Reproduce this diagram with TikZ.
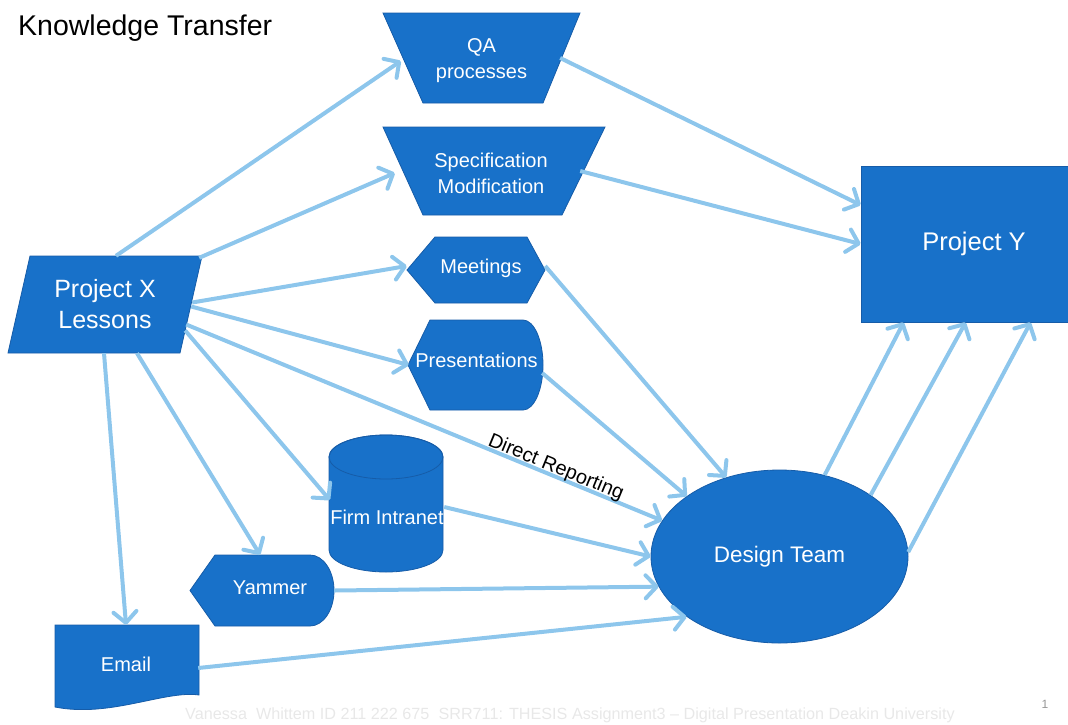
\documentclass[tikz,border=0pt]{standalone}
\usepackage{fontspec}
\setmainfont{Liberation Sans}
\usetikzlibrary{arrows.meta,shapes.geometric}
\definecolor{boxblue}{RGB}{24,113,201}
\definecolor{boxline}{RGB}{22,92,168}
\definecolor{linkblue}{RGB}{141,198,236}
\definecolor{footgray}{RGB}{232,232,232}
\definecolor{pagegray}{RGB}{150,150,150}

\begin{document}
\begin{tikzpicture}[x=1pt,y=-1pt,
  shapefill/.style={fill=boxblue,draw=boxline,line width=0.8pt},
  boxtext/.style={text=white,inner sep=0pt,align=center,font=\fontsize{20}{26}\selectfont},
  link/.style={draw=linkblue,line width=4pt,-{Straight Barb[length=11pt,width=23pt,round]}},
]
\useasboundingbox (0,0) rectangle (1068,724);

% title
\node[anchor=base west,inner sep=0pt,font=\fontsize{28.5}{28.5}\selectfont] (title) at (18,35) {Knowledge Transfer};

% shape outlines
\filldraw[shapefill] (30,256) -- (202,256) -- (180,353) -- (8,353) -- cycle;
\filldraw[shapefill] (383,13) -- (580,13) -- (543,103) -- (423,103) -- cycle;
\filldraw[shapefill] (383,127) -- (605,127) -- (562,215) -- (423,215) -- cycle;
\filldraw[shapefill] (407,270) -- (435,237) -- (527,237) -- (545,270) -- (527,303) -- (435,303) -- cycle;
\filldraw[shapefill] (408,365) -- (430,320) -- (523,320)
  arc[start angle=90,end angle=-90,x radius=20pt,y radius=45pt] -- (430,410) -- cycle;
\filldraw[shapefill] (190,590.5) -- (215,555) -- (310,555)
  arc[start angle=90,end angle=-90,x radius=24pt,y radius=35.5pt] -- (215,626) -- cycle;
\filldraw[shapefill] (329,457) -- (329,550)
  arc[start angle=180,end angle=360,x radius=57pt,y radius=22pt] -- (443,457)
  arc[start angle=0,end angle=180,x radius=57pt,y radius=22pt] -- cycle;
\draw[boxline,line width=0.8pt] (386,457) ellipse [x radius=57pt,y radius=22pt];
\filldraw[shapefill] (55,625) -- (199,625) -- (199,695)
  .. controls (165,690) and (110,718) .. (55,707) -- cycle;

% nodes
\node[boxtext,minimum width=194pt,minimum height=97pt,font=\fontsize{25}{31}\selectfont] (px) at (105,304.5) {Project X\\Lessons};
\node[boxtext,minimum width=197pt,minimum height=90pt] (qa) at (481.5,61) {QA\\processes};
\node[boxtext,minimum width=222pt,minimum height=88pt] (spec) at (491,173) {Specification\\Modification};
\node[boxtext,minimum width=138pt,minimum height=66pt] (meet) at (476,268) {\hspace*{10pt}Meetings};
\node[boxtext,minimum width=135pt,minimum height=90pt] (pres) at (476.5,360) {Presentations};
\node[boxtext,minimum width=114pt,minimum height=110pt] (fi) at (387,517) {Firm Intranet};
\node[boxtext,minimum width=128pt,minimum height=71pt] (yam) at (270,587.5) {Yammer};
\node[boxtext,minimum width=144pt,minimum height=78pt] (em) at (126,664) {Email};
\node[shapefill,ellipse,boxtext,draw=boxline,minimum width=257pt,minimum height=173pt,font=\fontsize{22.5}{26}\selectfont] (dt) at (779.5,556.5) {Design Team};
\node[shapefill,rectangle,boxtext,draw=boxline,minimum width=226pt,minimum height=156pt,font=\fontsize{25.5}{30}\selectfont] (py) at (974,244) {Project Y};

% connectors from Project X
\draw[link] ([xshift=11pt]px.north) -- ([xshift=18pt]qa.west);
\draw[link] ([xshift=-3pt,yshift=-2pt]px.north east) -- ([xshift=15pt]spec.west);
\draw[link] ([xshift=-10pt,yshift=2pt]px.east) -- ([yshift=2pt]meet.west);
\draw[link] ([xshift=-11pt,yshift=-2pt]px.east) -- ([yshift=-5pt]pres.west);
\draw[link] ([xshift=-16pt,yshift=-20pt]px.east) -- node[pos=0.77,sloped,above=-3pt,inner sep=0pt,text=black,font=\fontsize{20}{20}\selectfont] (dr) {Direct Reporting} (dt.163);
\draw[link] ([xshift=-17pt,yshift=-26pt]px.east) -- ([yshift=17pt]fi.west);
\draw[link] ([xshift=32pt]px.south) -- ([xshift=-10pt,yshift=-3pt]yam.north);
\draw[link] ([xshift=-1pt]px.south) -- (em.north);

% connectors to Project Y and Design Team
\draw[link] ([xshift=-20pt,yshift=3pt]qa.east) -- ([yshift=39pt]py.west);
\draw[link] ([xshift=-22pt,yshift=2pt]spec.east) -- (py.west);
\draw[link] ([yshift=2pt]meet.east) -- (dt.124);
\draw[link] ([xshift=-2pt,yshift=-13pt]pres.east) -- (dt.147);
\draw[link] ([yshift=10pt]fi.east) -- (dt.west);
\draw[link] ([yshift=-3pt]yam.east) -- (dt.194);
\draw[link] ([yshift=-4pt]em.east) -- (dt.213);
\draw[link] (dt.61) -- ([xshift=43pt]py.south west);
\draw[link] (dt.34) -- ([xshift=105pt]py.south west);
\draw[link] (dt.2) -- ([xshift=170pt]py.south west);

% footer
\node[anchor=base west,inner sep=0pt,text=footgray,font=\fontsize{16.2}{16}\selectfont] (foot) at (185,719) {Vanessa\ \ Whittem ID 211 222 675\ \ SRR711: THESIS Assignment3 – Digital Presentation Deakin University};
\node[inner sep=0pt,text=pagegray,font=\fontsize{12}{12}\selectfont] (pg) at (1045,704) {1};
\end{tikzpicture}
\end{document}
